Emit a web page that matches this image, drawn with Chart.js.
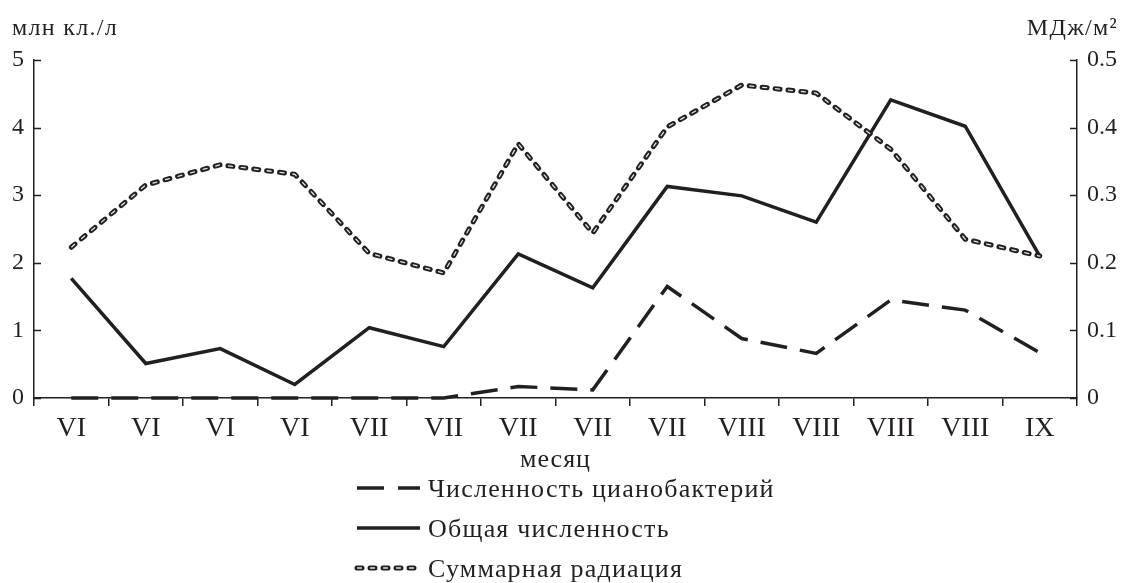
<!DOCTYPE html>
<html lang="ru">
<head>
    <meta charset="UTF-8">
    <title>Численность и суммарная радиация</title>
    <script src="https://cdn.jsdelivr.net/npm/chart.js"></script>
    <style>
        body {
            margin: 0;
            background: #fff;
        }
        .chart-box {
            width: 1124px;
            height: 583px;
            position: relative;
        }
    </style>
</head>
<body>
    <div class="chart-box">
        <canvas id="chart"></canvas>
    </div>

    <script>
        // данные
        const months = ['VI', 'VI', 'VI', 'VI', 'VII', 'VII', 'VII', 'VII', 'VII', 'VIII', 'VIII', 'VIII', 'VIII', 'IX'];
        const cyano = [0, 0, 0, 0, 0, 0, 0.17, 0.12, 1.65, 0.88, 0.66, 1.45, 1.3, 0.67];
        const total = [1.77, 0.51, 0.73, 0.2, 1.04, 0.76, 2.13, 1.63, 3.13, 2.99, 2.6, 4.41, 4.02, 2.1];
        const radiation = [0.223, 0.315, 0.345, 0.331, 0.214, 0.185, 0.376, 0.244, 0.401, 0.463, 0.451, 0.368, 0.235, 0.21];
        const leftTicks = [0, 1, 2, 3, 4, 5];
        const rightTicks = [0, 0.1, 0.2, 0.3, 0.4, 0.5];

        const ink = '#231f20';
        const serif = "'Liberation Serif', 'DejaVu Serif', serif";

        const datasets = [
            {
                label: 'Суммарная радиация (центр)',
                data: radiation,
                yAxisID: 'y2',
                borderColor: '#e4e4e4',
                borderWidth: 1.3,
                borderDash: [4, 9],
                borderDashOffset: -0.5,
                borderCapStyle: 'round',
                pointRadius: 0,
                tension: 0,
                order: 0,
                inLegend: false
            },
            {
                label: 'Численность цианобактерий',
                data: cyano,
                yAxisID: 'y',
                borderColor: ink,
                borderWidth: 3.5,
                borderDash: [27, 13],
                pointRadius: 0,
                tension: 0,
                clip: 6,
                order: 2,
                inLegend: true
            },
            {
                label: 'Общая численность',
                data: total,
                yAxisID: 'y',
                borderColor: ink,
                borderWidth: 3.5,
                pointRadius: 0,
                tension: 0,
                order: 2,
                inLegend: true
            },
            {
                label: 'Суммарная радиация',
                data: radiation,
                yAxisID: 'y2',
                borderColor: ink,
                borderWidth: 5,
                borderDash: [5, 8],
                borderCapStyle: 'round',
                pointRadius: 0,
                tension: 0,
                order: 1,
                inLegend: true
            }
        ];

        // подписи единиц, название оси X, внутренние засечки и легенда
        const extras = {
            id: 'extras',
            afterDraw(chart) {
                const ctx = chart.ctx;
                const area = chart.chartArea;
                ctx.save();
                ctx.fillStyle = ink;
                ctx.textBaseline = 'alphabetic';
                ctx.font = '24px ' + serif;
                ctx.letterSpacing = '1.3px';
                ctx.textAlign = 'left';
                ctx.fillText('млн кл./л', 12, 35);
                ctx.textAlign = 'right';
                ctx.fillText('МДж/м²', 1118, 35);

                ctx.font = '26px ' + serif;
                ctx.letterSpacing = '1px';
                ctx.textAlign = 'center';
                ctx.fillText('месяц', (area.left + area.right) / 2, 467);
                ctx.letterSpacing = '0px';

                // засечки внутрь области графика
                ctx.strokeStyle = ink;
                ctx.lineWidth = 1.5;
                const yl = chart.scales.y, yr = chart.scales.y2;
                leftTicks.forEach(v => {
                    const py = Math.round(yl.getPixelForValue(v)) + 0.5;
                    ctx.beginPath();
                    ctx.moveTo(area.left, py);
                    ctx.lineTo(area.left + 7, py);
                    ctx.stroke();
                });
                rightTicks.forEach(v => {
                    const py = Math.round(yr.getPixelForValue(v)) + 0.5;
                    ctx.beginPath();
                    ctx.moveTo(area.right, py);
                    ctx.lineTo(area.right - 7, py);
                    ctx.stroke();
                });

                // легенда
                const x0 = 357, x1 = 420;
                let rowY = 488;
                ctx.textAlign = 'left';
                ctx.font = '26px ' + serif;
                chart.data.datasets.forEach(ds => {
                    if (!ds.inLegend) return;
                    ctx.beginPath();
                    ctx.strokeStyle = ds.borderColor;
                    ctx.lineWidth = ds.borderWidth;
                    ctx.lineCap = ds.borderCapStyle || 'butt';
                    ctx.setLineDash(ds.label === 'Численность цианобактерий' ? [27, 14] : (ds.borderDash || []));
                    ctx.moveTo(x0, rowY);
                    ctx.lineTo(x1, rowY);
                    ctx.stroke();
                    if (ds.label === 'Суммарная радиация') {
                        ctx.beginPath();
                        ctx.strokeStyle = '#e4e4e4';
                        ctx.lineWidth = 1.3;
                        ctx.setLineDash([4, 9]);
                        ctx.lineDashOffset = -0.5;
                        ctx.moveTo(x0, rowY);
                        ctx.lineTo(x1, rowY);
                        ctx.stroke();
                        ctx.lineDashOffset = 0;
                    }
                    ctx.setLineDash([]);
                    ctx.fillStyle = ink;
                    ctx.letterSpacing = '1.2px';
                    ctx.fillText(ds.label, 428, rowY + 9);
                    ctx.letterSpacing = '0px';
                    rowY += 40;
                });
                ctx.restore();
            }
        };

        const config = {
            type: 'line',
            data: { labels: months, datasets: datasets },
            options: {
                responsive: true,
                maintainAspectRatio: false,
                animation: false,
                layout: {
                    padding: { top: 60, bottom: 125, left: 0, right: 0 }
                },
                scales: {
                    x: {
                        offset: true,
                        afterFit(scale) { scale.height = 60; },
                        grid: {
                            offset: true,
                            drawOnChartArea: false,
                            drawTicks: true,
                            tickLength: 8,
                            color: ink,
                            lineWidth: 1.5
                        },
                        border: { display: true, color: ink, width: 1.5 },
                        ticks: {
                            color: ink,
                            padding: 6,
                            autoSkip: false,
                            maxRotation: 0,
                            font: { family: serif, size: 28 }
                        }
                    },
                    y: {
                        position: 'left',
                        min: 0,
                        max: 5,
                        afterFit(scale) { scale.width = 34; },
                        afterBuildTicks(scale) { scale.ticks = leftTicks.map(v => ({ value: v })); },
                        grid: { display: false, drawTicks: false },
                        border: { display: true, color: ink, width: 1.5 },
                        ticks: {
                            color: ink,
                            padding: 10,
                            font: { family: serif, size: 24 }
                        }
                    },
                    y2: {
                        position: 'right',
                        min: 0,
                        max: 0.5,
                        afterFit(scale) { scale.width = 47; },
                        afterBuildTicks(scale) { scale.ticks = rightTicks.map(v => ({ value: v })); },
                        grid: { display: false, drawTicks: false },
                        border: { display: true, color: ink, width: 1.5 },
                        ticks: {
                            color: ink,
                            padding: 10,
                            font: { family: serif, size: 24 },
                            callback: v => v === 0 ? '0' : v.toFixed(1)
                        }
                    }
                },
                plugins: {
                    legend: { display: false },
                    tooltip: { enabled: false }
                }
            },
            plugins: [extras]
        };

        const chart = new Chart(document.getElementById('chart'), config);
    </script>
</body>
</html>
